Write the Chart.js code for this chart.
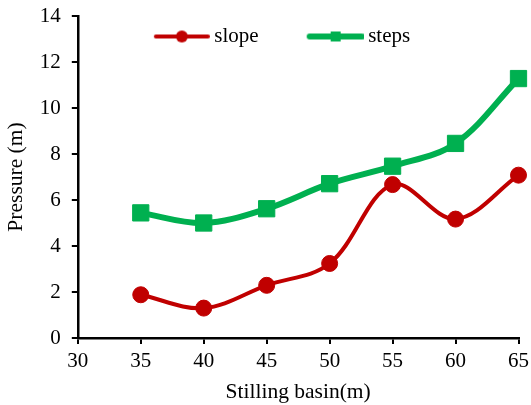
<!DOCTYPE html>
<html>
<head>
<meta charset="utf-8">
<script src="https://cdn.jsdelivr.net/npm/chart.js@4/dist/chart.umd.min.js"></script>
<style>
  body { margin: 0; background: #fff; }
</style>
</head>
<body>
<canvas id="myChart" width="531" height="405"></canvas>
<script>
"use strict";

// basin lengths (m)
const basinLength = [35, 40, 45, 50, 55, 60, 65];
// pressure (m)
const slope = [1.88, 1.30, 2.29, 3.24, 6.67, 5.17, 7.08];
const steps = [5.44, 5.00, 5.62, 6.71, 7.47, 8.46, 11.28];

const xTicks = [30, 35, 40, 45, 50, 55, 60, 65];
const yTicks = [0, 2, 4, 6, 8, 10, 12, 14];

const red = '#C00000';
const green = '#00B050';
const serif = '"Liberation Serif", "Times New Roman", serif';
const font = { family: serif, size: 21 };
const titleFont = { family: serif, size: 21.5 };

// legend swatch: line with marker in the middle
function swatch(color, lineW, shape) {
  const c = document.createElement('canvas');
  c.width = 62;
  c.height = 20;
  const g = c.getContext('2d');
  g.strokeStyle = color;
  g.fillStyle = color;
  g.lineWidth = lineW;
  g.lineCap = 'round';
  g.beginPath();
  g.moveTo(8, 10);
  g.lineTo(60, 10);
  g.stroke();
  if (shape === 'circle') {
    g.beginPath();
    g.arc(34, 10, 6, 0, Math.PI * 2);
    g.fill();
  } else {
    g.fillRect(29, 5, 10, 10);
  }
  return c;
}
const swatches = [swatch(red, 4, 'circle'), swatch(green, 6, 'rect')];

// legend sits inside the plot area, like the Excel one
const legendInside = {
  id: 'legendInside',
  beforeInit(chart) {
    const fit = chart.legend.fit;
    chart.legend.fit = function () {
      fit.bind(chart.legend)();
      this.height = 0;
    };
  },
  afterLayout(chart) {
    const lg = chart.legend;
    const w = lg.right - lg.left;
    lg.left = 282 - w / 2;
    lg.right = lg.left + w;
    lg.top = -23;
    lg.bottom = 80;
  }
};

const toPoints = arr => basinLength.map((x, i) => ({ x, y: arr[i] }));

const ctx = document.querySelector('#myChart').getContext('2d');

const data = {
  datasets: [
    {
      label: 'slope',
      data: toPoints(slope),
      borderColor: red,
      backgroundColor: red,
      borderWidth: 4,
      pointStyle: 'circle',
      pointRadius: 8,
      pointBorderWidth: 1,
      tension: 0.35,
      clip: false,
    },
    {
      label: 'steps',
      data: toPoints(steps),
      borderColor: green,
      backgroundColor: green,
      borderWidth: 6,
      pointStyle: 'rect',
      pointRadius: 11.5,
      pointBorderWidth: 1,
      tension: 0.35,
      clip: false,
    },
  ]
};

const config = {
  type: 'line',
  data: data,
  plugins: [legendInside],
  options: {
    responsive: false,
    animation: false,
    layout: {
      padding: { top: 0, right: 0, bottom: 0, left: 3 }
    },
    plugins: {
      tooltip: { enabled: false },
      legend: {
        position: 'top',
        labels: {
          font: font,
          color: '#000',
          usePointStyle: true,
          pointStyleWidth: 50,
          padding: 49,
          generateLabels(chart) {
            const items = Chart.defaults.plugins.legend.labels.generateLabels(chart);
            items.forEach((it, i) => { it.pointStyle = swatches[i]; });
            return items;
          }
        }
      }
    },
    scales: {
      x: {
        type: 'linear',
        min: 30,
        max: 65,
        afterBuildTicks: axis => { axis.ticks = xTicks.map(v => ({ value: v })); },
        afterFit: axis => { axis.paddingRight = 12; },
        ticks: { font: font, color: '#000', padding: 5 },
        grid: { drawOnChartArea: false, color: '#000', lineWidth: 2, tickLength: 6 },
        border: { color: '#000', width: 2.5 },
        title: {
          display: true,
          text: 'Stilling basin(m)',
          font: titleFont,
          color: '#000',
          padding: { top: 0, bottom: 0 }
        }
      },
      y: {
        min: 0,
        max: 14,
        afterBuildTicks: axis => { axis.ticks = yTicks.map(v => ({ value: v })); },
        afterFit: axis => { axis.paddingTop = 16; },
        ticks: { font: font, color: '#000', padding: 11 },
        grid: { drawOnChartArea: false, color: '#000', lineWidth: 2, tickLength: 6 },
        border: { color: '#000', width: 2.5 },
        title: {
          display: true,
          text: 'Pressure (m)',
          font: titleFont,
          color: '#000',
          padding: { top: 0, bottom: 0 }
        }
      }
    }
  }
};

const myChart = new Chart(ctx, config);
</script>
</body>
</html>
